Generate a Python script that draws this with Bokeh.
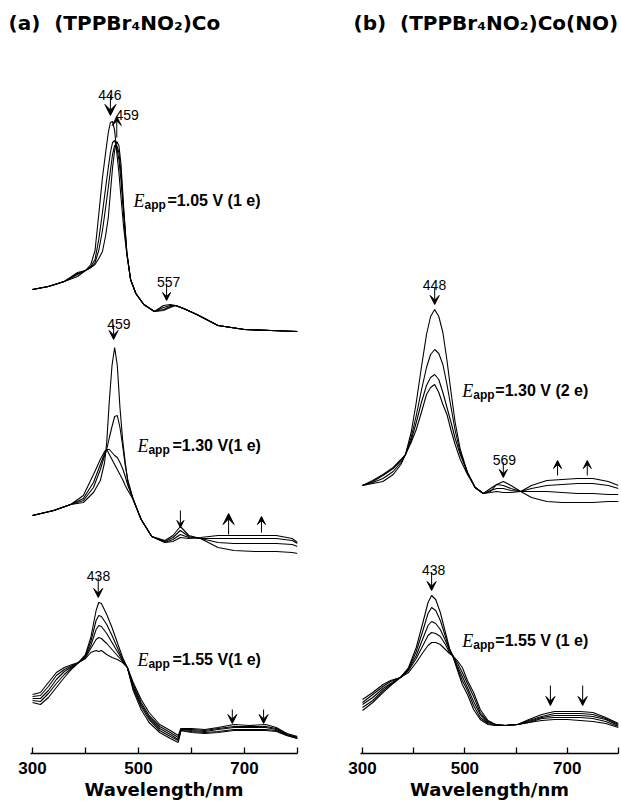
import numpy as np
from bokeh.plotting import figure
from bokeh.models import Range1d, FixedTicker, Label, Arrow, VeeHead
from bokeh.layouts import row
from bokeh.embed import file_html
from bokeh.resources import INLINE

# ---------------- DATA (relative absorbance) ----------------
# (a) (TPPBr4NO2)Co, Eapp = 1.05 V
wl_a1 = [300, 330, 360, 385, 400, 410, 418, 425, 432, 438, 443, 447, 451, 455, 459, 463,
         467, 472, 478, 485, 495, 510, 530, 547, 560, 570, 585, 610, 650, 700, 750, 800]
a1_c1 = [.43, .46, .51, .58, .62, .68, .82, 1.18, 1.55, 1.80, 2.00, 2.10, 2.11, 2.02, 1.80, 1.60,
         1.35, 1.05, .78, .53, .39, .28, .21, .27, .28, .27, .24, .18, .07, .03, .02, .01]
a1_c2 = [.43, .46, .51, .60, .62, .66, .73, .93, 1.20, 1.45, 1.65, 1.80, 1.90, 1.92, 1.85, 1.73,
         1.52, 1.18, .79, .53, .39, .28, .21, .25, .27, .27, .24, .18, .07, .03, .02, .01]
a1_c3 = [.43, .46, .51, .56, .62, .65, .70, .82, 1.02, 1.25, 1.45, 1.62, 1.78, 1.87, 1.87, 1.80,
         1.60, 1.22, .80, .53, .39, .28, .21, .23, .26, .27, .24, .18, .07, .03, .02, .01]
a1_c4 = [.43, .46, .51, .59, .62, .65, .68, .74, .81, .97, 1.15, 1.40, 1.65, 1.82, 1.91, 1.87,
         1.68, 1.25, .80, .53, .39, .28, .21, .22, .25, .27, .24, .18, .07, .03, .02, .01]

# (a) Eapp = 1.30 V
wl_a2 = [300, 340, 372, 396, 415, 428, 436, 440, 445, 450, 455, 460, 465, 470, 475, 480,
         490, 505, 525, 550, 565, 579, 595, 617, 650, 680, 720, 760, 790, 800]
a2_c1 = [.37, .42, .48, .50, .60, .72, .90, 1.10, 1.52, 1.87, 2.05, 1.87, 1.45, 1.13, .90, .70,
         .53, .33, .16, .12, .17, .26, .17, .14, .05, .02, .01, .01, .00, -.01]
a2_c2 = [.37, .42, .48, .52, .65, .83, .97, 1.03, 1.15, 1.26, 1.36, 1.37, 1.25, 1.07, .87, .72,
         .53, .33, .16, .11, .15, .22, .16, .14, .10, .09, .09, .09, .08, .06]
a2_c3 = [.37, .42, .48, .54, .70, .88, .99, 1.03, 1.03, 1.00, .97, .95, .90, .84, .76, .67,
         .53, .33, .16, .10, .13, .18, .15, .14, .14, .14, .14, .14, .12, .09]
a2_c4 = [.37, .42, .48, .57, .78, .93, 1.01, 1.03, .98, .93, .88, .83, .78, .73, .67, .62,
         .53, .33, .16, .10, .11, .15, .14, .15, .17, .17, .17, .17, .14, .10]

# (a) Eapp = 1.55 V
wl_a3 = [300, 315, 330, 345, 360, 375, 387, 400, 410, 420, 425, 430, 440, 450, 460, 470, 479,
         490, 505, 520, 540, 560, 575, 580, 600, 625, 650, 680, 710, 740, 760, 780, 800]
a3_c1 = [.40, .38, .45, .55, .65, .74, .80, .88, 1.05, 1.32, 1.40, 1.39, 1.28, 1.15, 1.00, .85, .75,
         .60, .43, .30, .18, .12, .07, .14, .14, .13, .15, .18, .17, .18, .15, .09, .06]
a3_c2 = [.42, .41, .49, .59, .68, .75, .80, .87, 1.01, 1.22, 1.27, 1.26, 1.18, 1.07, .95, .83, .75,
         .58, .40, .27, .16, .10, .05, .13, .13, .12, .14, .16, .16, .16, .14, .08, .05]
a3_c3 = [.44, .44, .52, .63, .71, .76, .80, .86, .97, 1.13, 1.17, 1.16, 1.09, 1.00, .91, .82, .75,
         .56, .38, .25, .14, .08, .03, .13, .12, .11, .13, .15, .15, .15, .13, .08, .05]
a3_c4 = [.46, .47, .56, .67, .73, .77, .80, .85, .94, 1.03, 1.05, 1.04, .99, .93, .87, .81, .75,
         .54, .36, .23, .12, .06, .02, .12, .11, .10, .11, .13, .13, .13, .12, .07, .04]
a3_c5 = [.48, .50, .60, .70, .75, .78, .80, .84, .90, .92, .91, .92, .88, .85, .83, .80, .75,
         .52, .33, .20, .10, .04, .00, .12, .10, .09, .10, .12, .12, .12, .11, .07, .04]

# (b) (TPPBr4NO2)Co(NO), Eapp = 1.30 V
wl_b1 = [300, 320, 340, 360, 375, 384, 395, 405, 415, 425, 433, 441, 449, 457, 465, 473, 481,
         491, 505, 520, 536, 550, 562, 575, 590, 609, 630, 660, 690, 720, 750, 780, 800]
b1_c1 = [.17, .19, .21, .28, .38, .48, .70, 1.00, 1.35, 1.68, 1.86, 1.93, 1.86, 1.70, 1.42, 1.10, .80,
         .53, .30, .15, .09, .11, .18, .21, .17, .11, .05, .01, .00, .00, .00, .01, .01]
b1_c2 = [.17, .20, .24, .31, .40, .48, .65, .87, 1.12, 1.35, 1.48, 1.53, 1.49, 1.38, 1.18, .95, .72,
         .50, .30, .15, .09, .14, .18, .17, .14, .11, .11, .11, .10, .09, .09, .08, .08]
b1_c3 = [.17, .21, .27, .34, .42, .48, .62, .80, 1.00, 1.17, 1.25, 1.28, 1.23, 1.10, .95, .80, .64,
         .48, .30, .15, .09, .12, .14, .14, .12, .11, .14, .17, .18, .19, .19, .17, .14]
b1_c4 = [.17, .22, .28, .35, .43, .48, .60, .73, .90, 1.08, 1.15, 1.18, 1.10, .98, .88, .72, .58,
         .43, .28, .15, .09, .10, .11, .10, .10, .11, .17, .22, .23, .24, .24, .21, .17]

# (b) Eapp = 1.55 V
wl_b2 = [300, 320, 340, 355, 374, 390, 405, 418, 428, 435, 443, 452, 462, 470, 476, 485,
         495, 505, 517, 530, 545, 560, 580, 603, 625, 650, 675, 700, 725, 750, 775, 800]
b2_c1 = [.22, .30, .40, .47, .55, .65, .85, 1.10, 1.30, 1.37, 1.33, 1.20, 1.00, .84, .77, .63,
         .48, .38, .23, .13, .08, .07, .07, .08, .13, .18, .21, .21, .21, .20, .15, .09]
b2_c2 = [.25, .32, .42, .48, .55, .64, .81, 1.02, 1.19, 1.25, 1.22, 1.12, .96, .83, .77, .65,
         .52, .42, .27, .15, .09, .07, .07, .08, .12, .16, .19, .19, .19, .18, .14, .08]
b2_c3 = [.28, .35, .44, .49, .55, .63, .77, .94, 1.07, 1.11, 1.09, 1.03, .92, .82, .77, .67,
         .56, .45, .31, .18, .10, .08, .07, .08, .11, .15, .17, .17, .17, .16, .13, .07]
b2_c4 = [.30, .38, .46, .51, .55, .62, .74, .87, .97, 1.00, .99, .96, .88, .80, .77, .70,
         .60, .49, .36, .20, .11, .08, .07, .08, .10, .14, .15, .15, .15, .14, .11, .06]
b2_c5 = [.33, .40, .48, .52, .55, .60, .70, .80, .87, .90, .90, .88, .83, .79, .77, .72,
         .65, .52, .40, .23, .12, .08, .07, .08, .10, .12, .13, .13, .12, .11, .09, .05]

major_ticks = [300, 500, 700]
minor_ticks = [400, 600, 800]
tick_labels = {300: "300", 500: "500", 700: "700"}
x_label = "Wavelength/nm"
titles = ["(a) \u00a0(TPPBr\u2084NO\u2082)Co", "(b) \u00a0(TPPBr\u2084NO\u2082)Co(NO)"]

# ---------------- LAYOUT ----------------
TITLE_H = 24
FRAME_H = 743 - TITLE_H
Y_TOP = FRAME_H / 100.0   # 1 absorbance unit = 100 px, axis at bottom of frame


def make_fig(x_start, frame_w, b_left, b_right, title, title_offset):
    p = figure(frame_width=frame_w, frame_height=FRAME_H,
               min_border_left=b_left, min_border_right=b_right,
               min_border_top=0, min_border_bottom=45,
               x_range=Range1d(x_start, 800), y_range=Range1d(0, Y_TOP),
               y_axis_location=None, output_backend="svg",
               toolbar_location=None, tools="", title=title)
    p.title.align = "left"
    p.title.offset = title_offset
    p.title.standoff = 0
    p.title.text_font = "DejaVu Sans"
    p.title.text_font_style = "bold"
    p.title.text_font_size = "20px"
    p.title.text_color = "black"
    p.grid.visible = False
    p.outline_line_color = None
    p.background_fill_color = "white"
    p.border_fill_color = "white"
    ax = p.xaxis[0]
    ax.ticker = FixedTicker(ticks=major_ticks, minor_ticks=minor_ticks)
    ax.major_label_overrides = tick_labels
    ax.axis_line_width = 1.5
    ax.major_tick_in = 6
    ax.major_tick_out = 0
    ax.minor_tick_in = 6
    ax.minor_tick_out = 0
    ax.major_tick_line_width = 1.3
    ax.minor_tick_line_width = 1.3
    ax.major_label_standoff = 8
    ax.major_label_text_font = "Liberation Sans"
    ax.major_label_text_font_style = "bold"
    ax.major_label_text_font_size = "17px"
    ax.major_label_text_color = "black"
    ax.axis_label = x_label
    ax.axis_label_text_font = "DejaVu Sans"
    ax.axis_label_text_font_style = "bold"
    ax.axis_label_text_font_size = "18px"
    ax.axis_label_standoff = 2
    ax.axis_label_text_color = "black"
    return p


def draw_set(p, wl, curves, offset):
    x = np.array(wl, dtype=float)
    for c in curves:
        p.line(x, offset + np.array(c, dtype=float), line_color="black", line_width=1.1)


def add_arrows(p, arrows):
    for (xa, ys, ye, size) in arrows:
        p.add_layout(Arrow(end=VeeHead(size=size, fill_color="black", line_color="black", line_width=1),
                           x_start=xa, y_start=ys, x_end=xa, y_end=ye,
                           line_color="black", line_width=1))


def add_text(p, items):
    for (xt, yt, txt, align) in items:
        p.add_layout(Label(x=xt, y=yt, text=txt, text_align=align, text_baseline="alphabetic",
                           text_font="Liberation Sans", text_font_size="14px", text_color="black"))


def add_eapp(p, xt, yt, rest, rest_dx):
    p.add_layout(Label(x=xt, y=yt, text="E", text_font="Liberation Serif", text_font_style="italic",
                       text_font_size="18px", text_baseline="alphabetic", text_color="black"))
    p.add_layout(Label(x=xt, y=yt, x_offset=11, y_offset=-4, text="app", text_font="Liberation Sans",
                       text_font_style="bold", text_font_size="12px", text_baseline="alphabetic",
                       text_color="black"))
    p.add_layout(Label(x=xt, y=yt, x_offset=rest_dx, text=rest, text_font="Liberation Sans",
                       text_font_style="bold", text_font_size="16px", text_baseline="alphabetic",
                       text_color="black"))


# panel (a)
pa = make_fig(296.2, 267, 22, 16, titles[0], -22)
draw_set(pa, wl_a1, [a1_c1, a1_c2, a1_c3, a1_c4], 4.21)
draw_set(pa, wl_a2, [a2_c1, a2_c2, a2_c3, a2_c4], 2.01)
draw_set(pa, wl_a3, [a3_c1, a3_c2, a3_c3, a3_c4, a3_c5], 0.11)
add_arrows(pa, [(447, 6.59, 6.38, 11), (459, 6.16, 6.37, 9), (553, 4.70, 4.53, 8),
                (453, 4.29, 4.14, 9), (579, 2.43, 2.26, 7), (670, 2.19, 2.40, 11), (732, 2.21, 2.37, 8),
                (424, 1.76, 1.56, 9), (677, 0.44, 0.30, 9), (736, 0.44, 0.30, 9)])
add_text(pa, [(446, 6.59, "446", "center"), (456.6, 6.39, "459", "left"), (557, 4.72, "557", "center"),
              (463, 4.30, "459", "center"), (424.5, 1.78, "438", "center")])
add_eapp(pa, 490.6, 5.53, "=1.05 V (1 e)", 34)
add_eapp(pa, 498, 3.08, "=1.30 V(1 e)", 35)
add_eapp(pa, 498, 0.94, "=1.55 V(1 e)", 35)

# panel (b)
pb = make_fig(296.1, 258, 47, 2, titles[1], -7)
draw_set(pb, wl_b1, [b1_c1, b1_c2, b1_c3, b1_c4], 2.51)
draw_set(pb, wl_b2, [b2_c1, b2_c2, b2_c3, b2_c4, b2_c5], 0.21)
add_arrows(pb, [(441, 4.66, 4.49, 9), (575, 2.91, 2.76, 8), (681, 2.78, 2.93, 8), (739, 2.78, 2.93, 8),
                (435, 1.81, 1.63, 9), (667, 0.68, 0.48, 9), (730, 0.68, 0.48, 9)])
add_text(pb, [(440.6, 4.69, "448", "center"), (577, 2.94, "569", "center"), (439, 1.84, "438", "center")])
add_eapp(pb, 495, 3.63, "=1.30 V (2 e)", 33)
add_eapp(pb, 495, 1.13, "=1.55 V (1 e)", 33)

layout = row(pa, pb)
layout.margin = (8, 0, 0, 8)
open("out.html", "w").write(file_html(layout, INLINE))
